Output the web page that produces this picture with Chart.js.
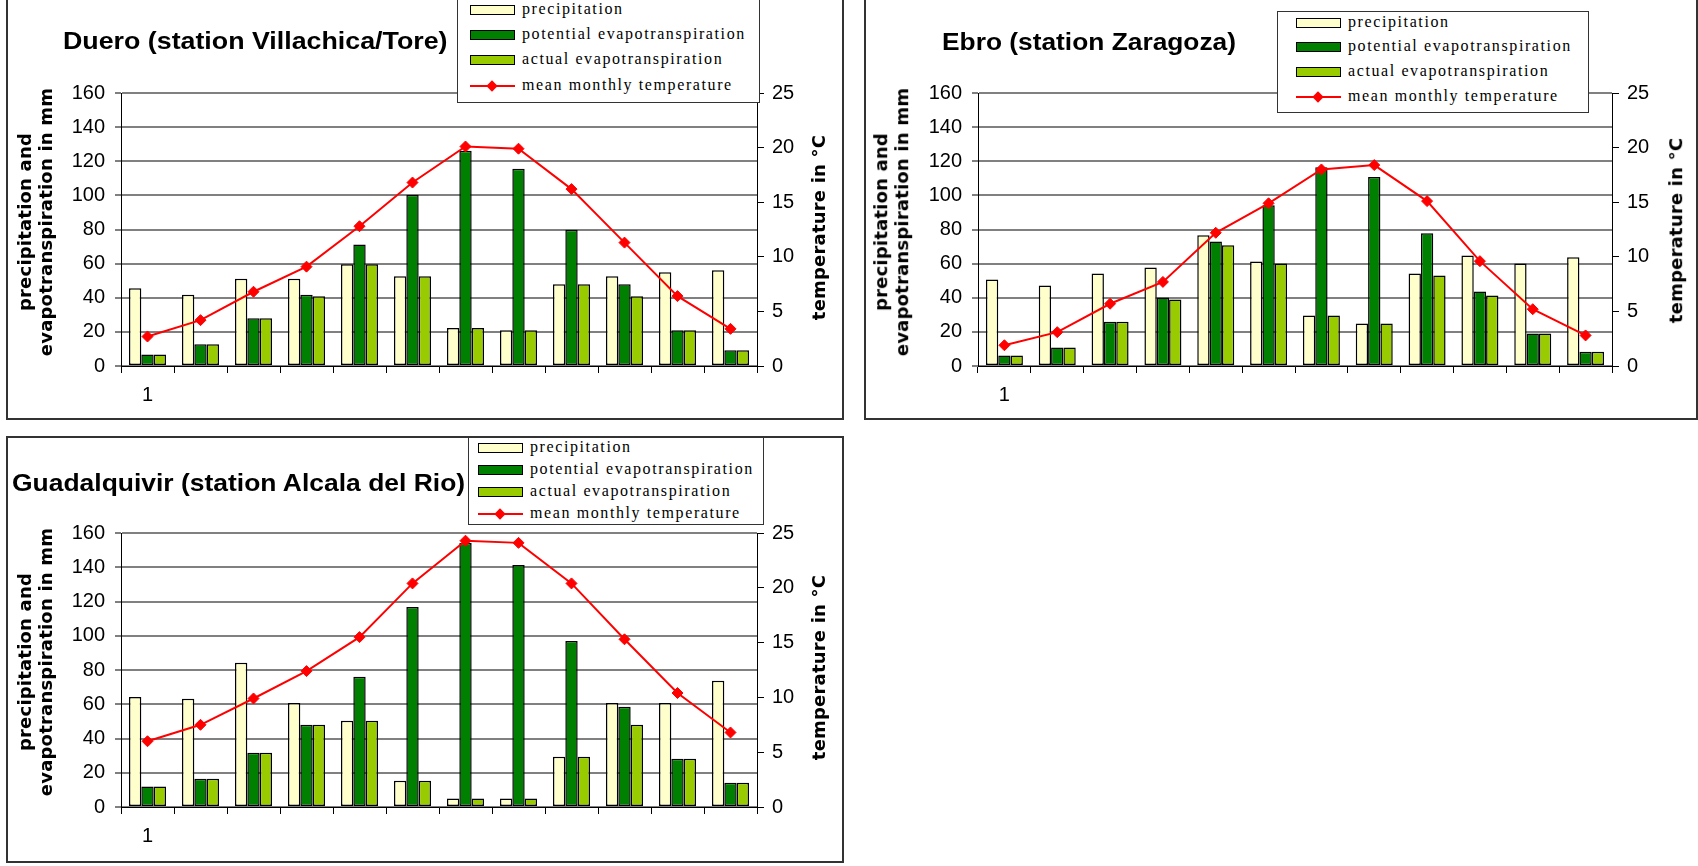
<!DOCTYPE html>
<html>
<head>
<meta charset="utf-8">
<script src="https://cdn.jsdelivr.net/npm/chart.js@4.4.1/dist/chart.umd.min.js"></script>
<style>
body{margin:0;background:#fff;width:1698px;height:866px;overflow:hidden;position:relative}
.pnl{position:absolute;border:2px solid #333;box-sizing:border-box;background:#fff}
canvas{position:absolute}
.ttl{position:absolute;font:bold 24px "Liberation Sans",Arial,sans-serif;white-space:nowrap;transform-origin:0 50%;line-height:30px;color:#000}
.ax{position:absolute;font:bold 18px "DejaVu Sans",Verdana,sans-serif;white-space:nowrap;text-align:center;line-height:21px;color:#000;letter-spacing:0.2px}
.lg{position:absolute;background:#fff;border:1px solid #333;box-sizing:border-box}
.lg .sw{position:absolute;width:45px;height:10px;border:1.5px solid #000;box-sizing:border-box}
.lg .ln{position:absolute;width:45px;height:2px;background:#f00}
.lg .dm{position:absolute;width:8px;height:8px;background:#f00;transform:rotate(45deg)}
.lg .tx{position:absolute;font:16px "Liberation Serif","Times New Roman",serif;letter-spacing:1.6px;line-height:16px;white-space:nowrap;color:#000}
</style>
</head>
<body>
<div class="pnl" style="left:6px;top:-4px;width:838px;height:424px"></div>
<div class="pnl" style="left:864px;top:-4px;width:834px;height:424px"></div>
<div class="pnl" style="left:6px;top:436px;width:838px;height:427px"></div>
<canvas id="c1" width="834" height="418" style="left:8px;top:0px"></canvas>
<canvas id="c2" width="830" height="418" style="left:866px;top:0px"></canvas>
<canvas id="c3" width="834" height="423" style="left:8px;top:438px"></canvas>
<script>
// categories (only the first one carries a label in the original)
var categories = ['1', '', '', '', '', '', '', '', '', '', '', ''];
var seriesNames = ['precipitation', 'potential evapotranspiration', 'actual evapotranspiration', 'mean monthly temperature'];
var leftTicks = {max: 160, step: 20};
var rightTicks = {max: 25, step: 5};

// Duero (station Villachica/Tore)
var dueroPrecip = [45.5, 41.8, 51.2, 51.2, 59.6, 52.6, 22.2, 21.0, 47.9, 52.6, 54.9, 56.1];
var dueroPet    = [6.8, 12.7, 28.0, 41.8, 71.2, 100.4, 126.1, 115.6, 79.8, 47.9, 21.0, 9.3];
var dueroAet    = [6.8, 12.7, 28.0, 40.9, 59.6, 52.6, 22.2, 21.0, 47.9, 40.9, 21.0, 9.3];
var dueroTemp   = [2.7, 4.2, 6.8, 9.1, 12.8, 16.8, 20.1, 19.9, 16.2, 11.3, 6.4, 3.4];

// Ebro (station Zaragoza)
var ebroPrecip = [50.7, 47.2, 54.2, 57.8, 76.6, 61.3, 29.6, 24.9, 54.2, 64.8, 60.1, 63.7];
var ebroPet    = [6.1, 10.8, 26.0, 40.1, 73.0, 94.2, 116.5, 110.7, 77.8, 43.7, 19.0, 8.4];
var ebroAet    = [6.1, 10.8, 26.0, 39.0, 70.7, 60.1, 29.6, 24.9, 53.1, 41.3, 19.0, 8.4];
var ebroTemp   = [1.9, 3.1, 5.7, 7.7, 12.2, 14.9, 18.0, 18.4, 15.1, 9.6, 5.2, 2.8];

// Guadalquivir (station Alcala del Rio)
var guadPrecip = [64.3, 63.2, 84.2, 60.8, 50.3, 15.4, 4.9, 4.9, 29.4, 60.8, 60.8, 73.7];
var guadPet    = [11.9, 16.5, 31.7, 48.0, 76.0, 116.8, 154.2, 141.3, 97.0, 58.5, 28.2, 14.2];
var guadAet    = [11.9, 16.5, 31.7, 48.0, 50.3, 15.4, 4.9, 4.9, 29.4, 48.0, 28.2, 14.2];
var guadTemp   = [6.0, 7.5, 9.9, 12.4, 15.5, 20.4, 24.3, 24.1, 20.4, 15.3, 10.4, 6.8];

var barColors = ['#FFFFCC', '#008000', '#99CC00'];
var tickFont = {family: '"Liberation Sans", Arial, sans-serif', size: 20};

function makeChart(id, c) {
    var cv = document.getElementById(id);
    var W = cv.width, H = cv.height;
    var bar = {borderColor: '#000', borderWidth: 1.5, borderSkipped: false, categoryPercentage: 0.7, barPercentage: 1, yAxisID: 'y', order: 1};
    return new Chart(cv, {
        type: 'bar',
        data: {
            labels: categories,
            datasets: [
                Object.assign({label: seriesNames[0], data: c.precip, backgroundColor: barColors[0]}, bar),
                Object.assign({label: seriesNames[1], data: c.pet, backgroundColor: barColors[1]}, bar),
                Object.assign({label: seriesNames[2], data: c.aet, backgroundColor: barColors[2]}, bar),
                {
                    type: 'line', label: seriesNames[3], data: c.temp, yAxisID: 'y2', order: 0,
                    borderColor: '#FF0000', backgroundColor: '#FF0000', borderWidth: 2, tension: 0,
                    pointStyle: 'rectRot', pointRadius: 5.5, pointBorderWidth: 1, pointBorderColor: '#FF0000'
                }
            ]
        },
        options: {
            responsive: false,
            animation: false,
            devicePixelRatio: 1,
            layout: {padding: {top: c.top, left: 0, right: 0, bottom: 0}},
            plugins: {legend: {display: false}, title: {display: false}, tooltip: {enabled: false}},
            scales: {
                x: {
                    grid: {offset: true, drawOnChartArea: false, drawTicks: true, tickLength: 7, tickColor: '#000'},
                    border: {color: '#000', width: 1},
                    ticks: {autoSkip: false, maxRotation: 0, padding: 10, color: '#000', font: tickFont},
                    afterFit: function(s) { s.height = H - c.bottom; }
                },
                y: {
                    position: 'left', min: 0, max: leftTicks.max,
                    ticks: {stepSize: leftTicks.step, padding: 10, color: '#000', font: tickFont},
                    grid: {color: '#808080', lineWidth: 2, tickLength: 6, tickColor: '#000', tickWidth: 1},
                    border: {color: '#000', width: 1},
                    afterFit: function(s) { s.width = c.left; }
                },
                y2: {
                    position: 'right', min: 0, max: rightTicks.max,
                    ticks: {stepSize: rightTicks.step, padding: 8, color: '#000', font: tickFont},
                    grid: {drawOnChartArea: false, tickLength: 7, tickColor: '#000'},
                    border: {color: '#000', width: 1},
                    afterFit: function(s) { s.width = W - c.right; }
                }
            }
        }
    });
}

function addTitle(text, x, y, w) {
    var d = document.createElement('div');
    d.className = 'ttl';
    d.textContent = text;
    d.style.left = x + 'px';
    d.style.top = (y - 15) + 'px';
    document.body.appendChild(d);
    var k = w / d.offsetWidth;
    d.style.transform = 'scaleX(' + k.toFixed(3) + ')';
}

function addAxisTitle(lines, cx, cy) {
    var d = document.createElement('div');
    d.className = 'ax';
    d.innerHTML = lines.join('<br>');
    document.body.appendChild(d);
    d.style.left = (cx - d.offsetWidth / 2) + 'px';
    d.style.top = (cy - d.offsetHeight / 2) + 'px';
    d.style.transform = 'rotate(-90deg)';
}

function addLegend(g) {
    var box = document.createElement('div');
    box.className = 'lg';
    box.style.left = g.x + 'px';
    box.style.top = g.y + 'px';
    box.style.width = g.w + 'px';
    box.style.height = g.h + 'px';
    var html = '';
    for (var i = 0; i < seriesNames.length; i++) {
        var ry = g.rows[i] - g.y - 1;
        if (i < 3) {
            html += '<div class="sw" style="left:' + g.sw + 'px;top:' + (ry - 5) + 'px;background:' + barColors[i] + '"></div>';
        } else {
            html += '<div class="ln" style="left:' + g.sw + 'px;top:' + (ry - 1) + 'px"></div>';
            html += '<div class="dm" style="left:' + (g.sw + 18) + 'px;top:' + (ry - 4) + 'px"></div>';
        }
        html += '<div class="tx" style="left:' + g.tx + 'px;top:' + (ry - 9) + 'px">' + seriesNames[i] + '</div>';
    }
    box.innerHTML = html;
    document.body.appendChild(box);
}

var leftTitle = ['precipitation and', 'evapotranspiration in mm'];
var rightTitle = ['temperature in \u00B0C'];

makeChart('c1', {precip: dueroPrecip, pet: dueroPet, aet: dueroAet, temp: dueroTemp, left: 113, right: 749, top: 93, bottom: 366});
makeChart('c2', {precip: ebroPrecip, pet: ebroPet, aet: ebroAet, temp: ebroTemp, left: 112, right: 746, top: 93, bottom: 366});
makeChart('c3', {precip: guadPrecip, pet: guadPet, aet: guadAet, temp: guadTemp, left: 113, right: 749, top: 95, bottom: 369});

addTitle('Duero (station Villachica/Tore)', 63, 41, 385);
addTitle('Ebro (station Zaragoza)', 942, 42, 294);
addTitle('Guadalquivir (station Alcala del Rio)', 12, 483, 453);

addAxisTitle(leftTitle, 35, 222);
addAxisTitle(rightTitle, 818, 227);
addAxisTitle(leftTitle, 891, 222);
addAxisTitle(rightTitle, 1675, 230);
addAxisTitle(leftTitle, 35, 662);
addAxisTitle(rightTitle, 818, 667);

addLegend({x: 457, y: -3, w: 303, h: 106, rows: [10, 35, 60, 86], sw: 12, tx: 64});
addLegend({x: 1277, y: 11, w: 312, h: 102, rows: [23, 47, 72, 97], sw: 18, tx: 70});
addLegend({x: 468, y: 437, w: 296, h: 88, rows: [448, 470, 492, 514], sw: 9, tx: 61});
</script>
</body>
</html>
